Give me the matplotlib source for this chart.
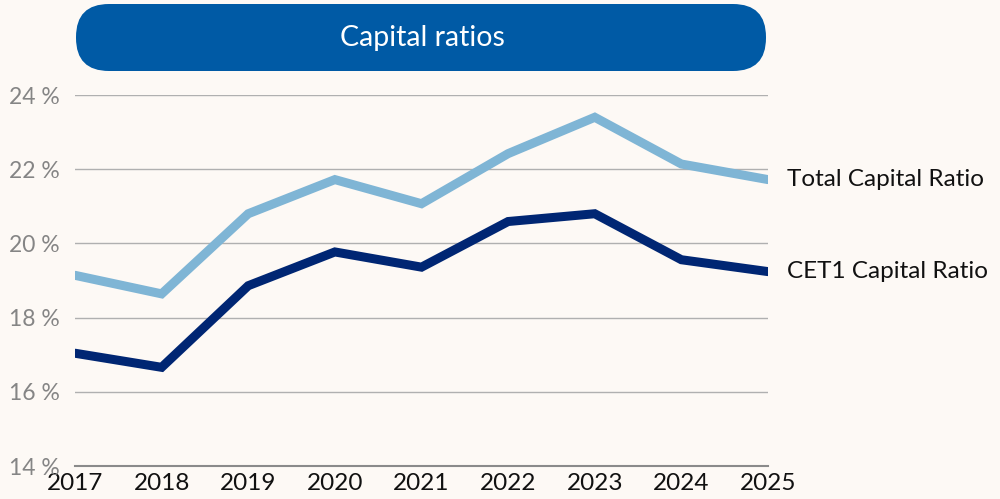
import matplotlib
matplotlib.use('Agg')
import matplotlib.pyplot as plt
from matplotlib.patches import FancyBboxPatch

years = [2017, 2018, 2019, 2020, 2021, 2022, 2023, 2024, 2025]
total_capital = [19.14, 18.64, 20.80, 21.72, 21.07, 22.42, 23.40, 22.14, 21.72]
cet1_capital = [17.04, 16.66, 18.86, 19.77, 19.36, 20.59, 20.80, 19.56, 19.24]
yticks = [14, 16, 18, 20, 22, 24]
series_names = ['Total Capital Ratio', 'CET1 Capital Ratio']
title = 'Capital ratios'

bg = '#FDF9F5'
light_blue = '#7FB5D5'
dark_blue = '#002673'
banner = '#005AA5'

plt.rcParams['font.family'] = ['Lato', 'DejaVu Sans']

fig = plt.figure(figsize=(10, 4.99), dpi=100, facecolor=bg)
ax = fig.add_axes([0.075, 0.0661, 0.693, 0.7435])
ax.set_facecolor(bg)

for vals, col, name in [(total_capital, light_blue, series_names[0]),
                        (cet1_capital, dark_blue, series_names[1])]:
    ax.plot(years, vals, color=col, linewidth=6.5, solid_capstyle='round',
            solid_joinstyle='miter', zorder=3)
    ax.annotate(name, xy=(years[-1], vals[-1]), xytext=(14, 0),
                textcoords='offset points', va='center', ha='left',
                fontsize=17.5, color='#111111', annotation_clip=False)

ax.set_xlim(years[0], years[-1])
ax.set_ylim(14, 24)
ax.set_xticks(years)
ax.set_xticklabels([str(y) for y in years], fontsize=17.5, color='#111111')
ax.set_yticks(yticks)
ax.set_yticklabels([f'{v} %' for v in yticks], fontsize=16.5, color='#858585')
ax.tick_params(axis='x', length=0, pad=5)
ax.tick_params(axis='y', length=0, pad=11)
ax.grid(axis='y', color='#B0B0B0', linewidth=1.0)
ax.set_axisbelow(True)
for side in ['top', 'left', 'right']:
    ax.spines[side].set_visible(False)
ax.spines['bottom'].set_color('#8A8A8A')
ax.spines['bottom'].set_linewidth(1.5)

# pill-shaped title banner, drawn on a pixel-unit overlay axes
bx = fig.add_axes([0, 0, 1, 1], zorder=-1)
bx.set_xlim(0, 1000)
bx.set_ylim(499, 0)
bx.axis('off')
bx.add_patch(FancyBboxPatch((76, 4), 690, 67,
                            boxstyle='round,pad=0,rounding_size=33',
                            facecolor=banner, edgecolor='none'))
bx.text(422, 38, title, ha='center', va='center', fontsize=20.5, color='white')

fig.savefig('out.png', facecolor=bg)
